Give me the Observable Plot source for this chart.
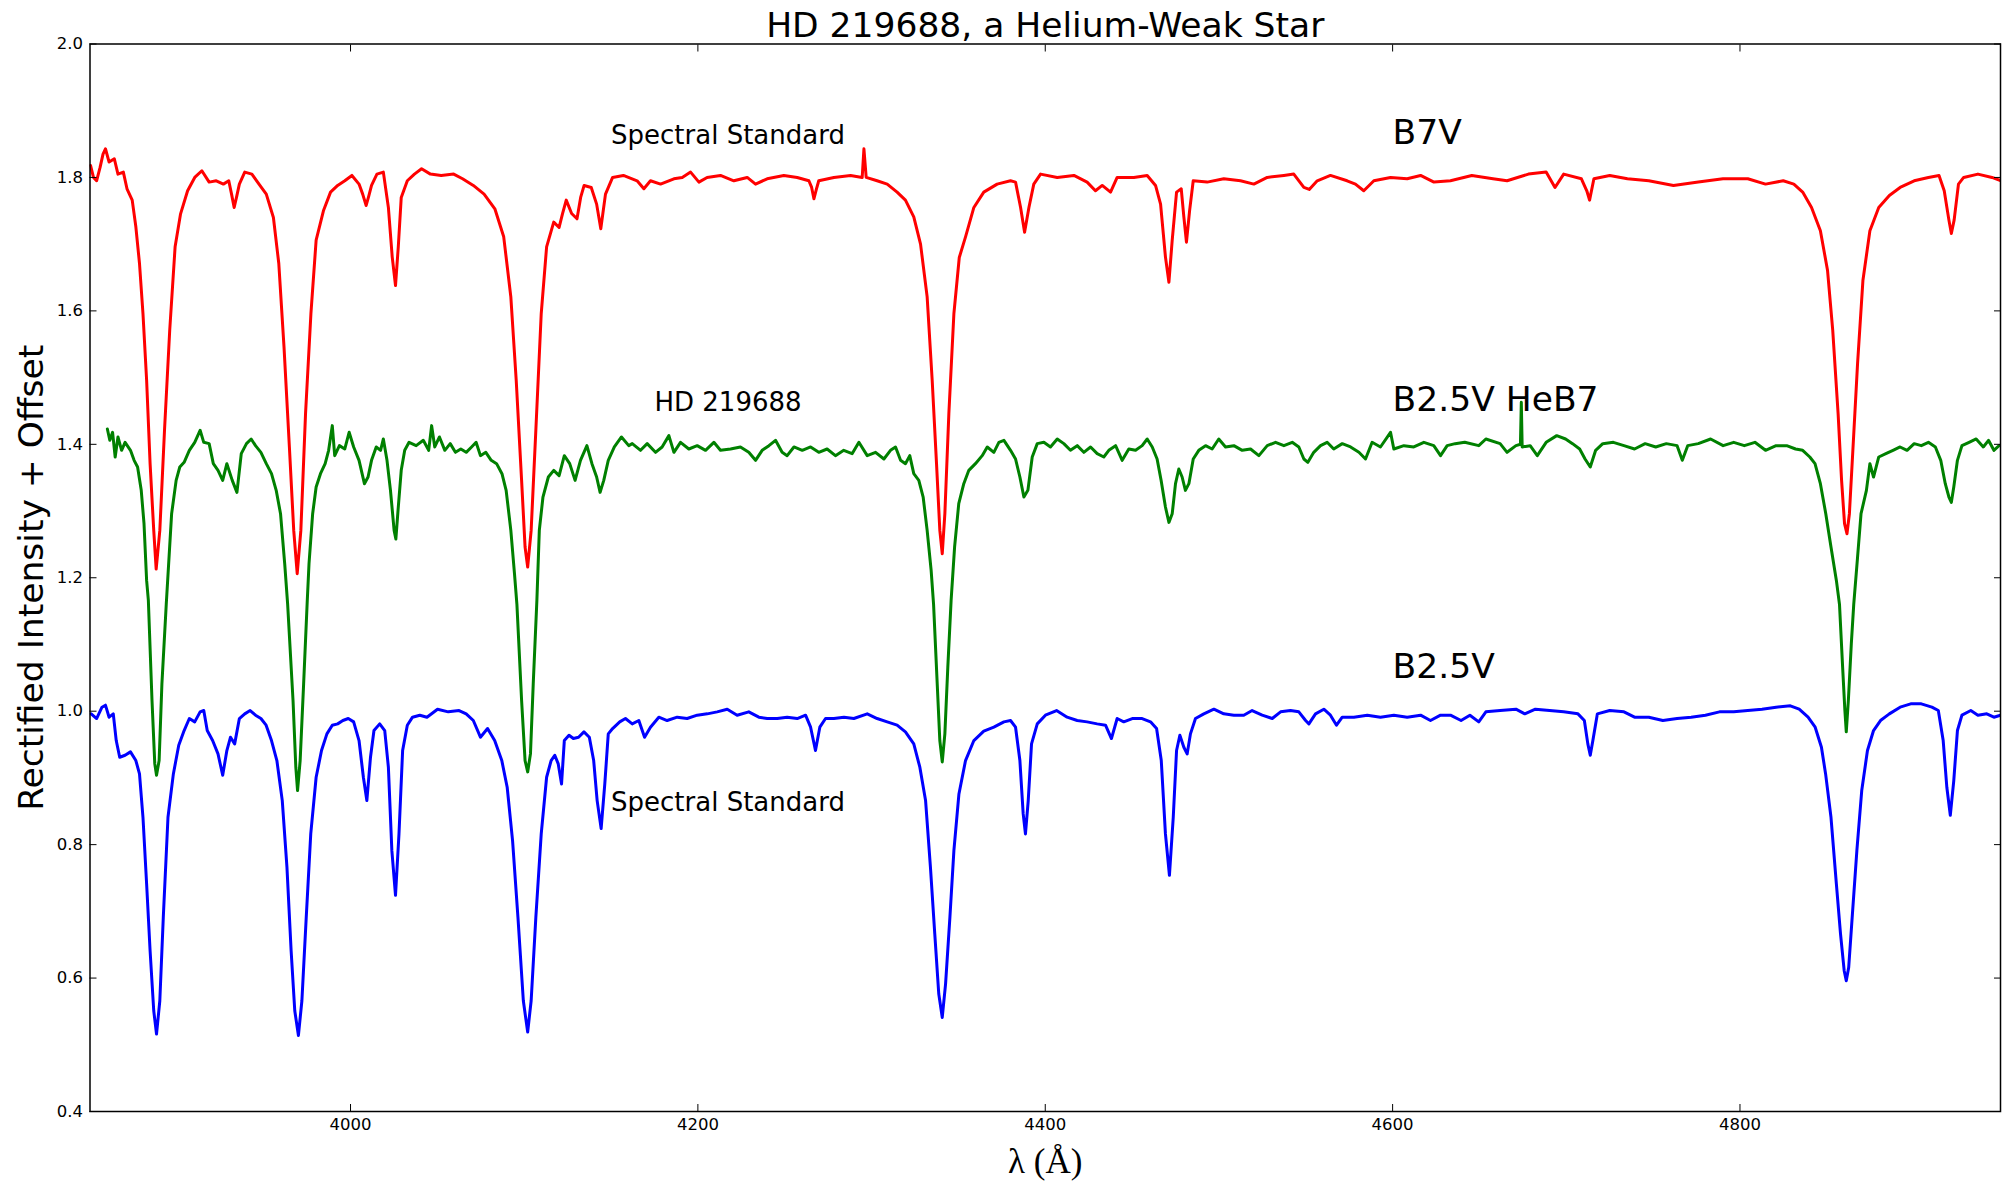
<!DOCTYPE html>
<html>
<head>
<meta charset="utf-8">
<script src="https://cdn.jsdelivr.net/npm/d3@7"></script>
<script src="https://cdn.jsdelivr.net/npm/@observablehq/plot@0.6"></script>
<style>
  html, body { margin: 0; padding: 0; background: #ffffff; }
  #chart { width: 2005px; height: 1182px; }
</style>
</head>
<body>
<div id="chart"></div>
<script>
// ---- Data: [wavelength (Å), rectified intensity + offset] ----
const b7vSpectrum = [
[3850.3,1.818],[3852,1.800],[3853.8,1.795],[3855.8,1.815],[3857.5,1.835],[3858.9,1.843],[3861,1.823],[3864,1.828],[3866.1,1.805],[3869.2,1.808],
[3871.3,1.783],[3874.3,1.766],[3876.4,1.726],[3878.5,1.671],[3880.5,1.596],[3882.6,1.496],[3884.6,1.371],[3886.7,1.271],[3888.1,1.213],[3890.2,1.271],
[3892.9,1.421],[3895.9,1.571],[3899,1.696],[3902.1,1.745],[3906.2,1.780],[3910.3,1.800],[3914.4,1.810],[3918.6,1.793],[3922.7,1.795],[3926.8,1.790],
[3929.9,1.795],[3931.5,1.775],[3933,1.755],[3934.5,1.772],[3936,1.790],[3939.1,1.808],[3943.2,1.805],[3947.3,1.790],[3951.5,1.775],[3955.6,1.740],
[3958.7,1.671],[3961.7,1.546],[3964.8,1.396],[3967.3,1.271],[3969.3,1.206],[3971.4,1.271],[3974.1,1.446],[3977.2,1.596],[3980.2,1.706],[3984.4,1.750],
[3988.5,1.778],[3992.6,1.788],[3996.7,1.795],[4000.8,1.803],[4004.9,1.790],[4007,1.775],[4009,1.758],[4010.5,1.772],[4012.1,1.788],[4015.2,1.805],
[4018.9,1.808],[4021.8,1.755],[4024,1.681],[4025.9,1.638],[4027.5,1.696],[4029.2,1.770],[4032.7,1.795],[4036.8,1.805],[4040.9,1.813],[4046,1.805],
[4052.2,1.803],[4059.4,1.805],[4064.5,1.798],[4070.7,1.788],[4076.9,1.775],[4083.1,1.753],[4088.2,1.711],[4092.3,1.621],[4095.4,1.496],[4098.5,1.346],
[4100.5,1.246],[4102,1.216],[4104,1.271],[4106.7,1.421],[4109.8,1.596],[4112.9,1.696],[4117,1.733],[4120.1,1.725],[4122,1.745],[4124.2,1.766],
[4127.3,1.746],[4130.4,1.738],[4132.5,1.770],[4134.5,1.788],[4138.6,1.785],[4141.7,1.760],[4144.1,1.723],[4146.8,1.775],[4150.9,1.800],[4157.1,1.803],
[4165,1.795],[4168.9,1.783],[4172.7,1.795],[4178.5,1.790],[4186.2,1.798],[4191,1.800],[4195.8,1.808],[4200.6,1.793],[4205.3,1.800],[4213,1.803],
[4220.7,1.795],[4228.4,1.800],[4233.2,1.790],[4239.9,1.798],[4249.5,1.803],[4257.2,1.800],[4263.9,1.795],[4265.5,1.785],[4266.8,1.768],[4268.2,1.782],
[4269.6,1.795],[4278.3,1.800],[4287.9,1.803],[4294.6,1.800],[4295.6,1.843],[4296.9,1.800],[4303.2,1.795],[4309,1.790],[4314.7,1.778],[4319.5,1.766],
[4324.3,1.741],[4328.2,1.700],[4332,1.621],[4334.9,1.496],[4337.4,1.371],[4339.3,1.271],[4340.7,1.236],[4342.2,1.296],[4344.5,1.446],[4347.4,1.596],
[4350.5,1.680],[4354.1,1.711],[4358.9,1.755],[4364.6,1.778],[4372.3,1.790],[4380,1.795],[4382.9,1.793],[4385.8,1.755],[4388.1,1.718],[4390.6,1.755],
[4393.4,1.790],[4397.3,1.805],[4406.9,1.800],[4416.5,1.803],[4424.1,1.793],[4428.9,1.780],[4432.8,1.788],[4437.6,1.778],[4441.4,1.800],[4451,1.800],
[4458.7,1.803],[4463.5,1.788],[4466.4,1.760],[4469.2,1.681],[4471.2,1.643],[4473.1,1.706],[4475.6,1.778],[4478.3,1.783],[4479.8,1.741],[4481.3,1.703],
[4483.1,1.750],[4485.2,1.795],[4493.2,1.793],[4502.8,1.798],[4512.4,1.795],[4520.1,1.790],[4527.8,1.800],[4537.4,1.803],[4543.1,1.805],[4548.9,1.785],
[4552,1.782],[4556.6,1.795],[4564.2,1.803],[4573.8,1.795],[4578.6,1.790],[4583.4,1.780],[4589.2,1.795],[4598.8,1.800],[4608.4,1.798],[4616.1,1.803],
[4623.8,1.793],[4633.3,1.795],[4645.6,1.803],[4657.8,1.798],[4665.9,1.795],[4678.2,1.805],[4688.4,1.808],[4693.5,1.785],[4698.5,1.805],[4708.7,1.798],
[4711.8,1.780],[4713.4,1.766],[4715.9,1.798],[4725,1.803],[4735.2,1.798],[4747.5,1.795],[4761.7,1.788],[4776,1.793],[4790.2,1.798],[4804.5,1.798],
[4814.7,1.790],[4824.9,1.795],[4831,1.790],[4836.1,1.778],[4841.2,1.755],[4846.3,1.720],[4850.4,1.661],[4853.4,1.571],[4856.5,1.446],[4858.5,1.346],
[4860.2,1.281],[4861.6,1.266],[4863,1.296],[4865.1,1.396],[4867.7,1.521],[4870.8,1.646],[4874.8,1.720],[4879.9,1.755],[4886,1.773],[4892.2,1.785],
[4900.3,1.795],[4908.5,1.800],[4914.6,1.803],[4917.6,1.780],[4920.3,1.736],[4921.7,1.716],[4923.3,1.736],[4925.8,1.790],[4928.8,1.800],[4937,1.805],
[4945.1,1.800],[4950.2,1.795]
];

const hd219688Spectrum = [
[3860,1.423],[3861.4,1.406],[3863,1.418],[3864.5,1.381],[3866.1,1.411],[3868.2,1.391],[3870.2,1.403],[3873.3,1.391],[3875.4,1.376],[3877.4,1.366],
[3879.5,1.331],[3881.1,1.281],[3882.6,1.196],[3883.6,1.166],[3885.7,1.016],[3887.3,0.921],[3888.3,0.904],[3889.8,0.926],[3891.4,1.041],[3893.9,1.160],
[3897,1.296],[3899.6,1.346],[3901.7,1.366],[3904.2,1.373],[3907.2,1.391],[3910.3,1.403],[3913.4,1.421],[3915.5,1.403],[3918.6,1.401],[3921,1.371],
[3923.7,1.361],[3926.4,1.346],[3928.8,1.371],[3931.9,1.346],[3934.6,1.328],[3937.1,1.386],[3940.1,1.401],[3942.8,1.408],[3945.3,1.398],[3948.4,1.388],
[3951.5,1.371],[3954.5,1.356],[3957.2,1.331],[3959.7,1.296],[3962.1,1.221],[3963.8,1.160],[3966.9,1.016],[3968.5,0.916],[3969.5,0.881],[3971,0.926],
[3973,1.041],[3975.1,1.166],[3976.1,1.221],[3978.2,1.296],[3980.2,1.336],[3982.7,1.356],[3985.4,1.371],[3987.4,1.391],[3989.5,1.428],[3990.9,1.383],
[3993.6,1.398],[3996.7,1.393],[3999.2,1.418],[4001.8,1.396],[4004.9,1.376],[4008,1.341],[4010.1,1.351],[4012.1,1.376],[4014.8,1.396],[4017.3,1.391],
[4018.9,1.408],[4021,1.376],[4023,1.331],[4025.1,1.271],[4026.1,1.258],[4027.5,1.306],[4029.2,1.361],[4031.2,1.391],[4033.7,1.403],[4037.8,1.398],
[4041.9,1.406],[4045,1.391],[4046.7,1.428],[4048.5,1.396],[4051.2,1.411],[4054.3,1.391],[4057.4,1.401],[4060.4,1.388],[4063.5,1.393],[4066.6,1.388],
[4069.7,1.396],[4072.3,1.403],[4074.8,1.383],[4077.9,1.388],[4081,1.376],[4084.1,1.371],[4087.2,1.356],[4089.6,1.331],[4092.3,1.271],[4094.4,1.206],
[4095.8,1.160],[4098.5,1.016],[4100.5,0.926],[4102,0.909],[4103.6,0.936],[4105.2,1.041],[4107.3,1.166],[4108.7,1.271],[4110.8,1.321],[4113.9,1.351],
[4117,1.361],[4120.1,1.353],[4123.1,1.383],[4126.2,1.371],[4129.3,1.346],[4132.4,1.376],[4136.1,1.398],[4139,1.371],[4141.7,1.351],[4143.7,1.328],
[4145.8,1.346],[4148.4,1.376],[4151.9,1.396],[4156,1.411],[4160.2,1.398],[4162.2,1.401],[4167,1.391],[4170.8,1.401],[4175.6,1.388],[4179.4,1.396],
[4183.3,1.413],[4186.2,1.388],[4190,1.403],[4194.8,1.393],[4199.6,1.398],[4204.4,1.391],[4209.2,1.403],[4213,1.391],[4218.8,1.393],[4224.5,1.396],
[4229.3,1.388],[4233.2,1.376],[4237,1.391],[4240.9,1.398],[4244.7,1.406],[4248.5,1.388],[4251.4,1.383],[4255.3,1.396],[4260.1,1.391],[4264.9,1.396],
[4269.6,1.388],[4274.4,1.393],[4279.2,1.383],[4284,1.391],[4288.8,1.386],[4292.7,1.403],[4297.5,1.383],[4302.3,1.388],[4307.1,1.378],[4310.9,1.391],
[4313.8,1.396],[4316.7,1.376],[4319.5,1.371],[4322,1.383],[4324.3,1.356],[4327.2,1.346],[4329.7,1.321],[4332,1.271],[4334.3,1.211],[4335.7,1.160],
[4337.8,1.041],[4339.3,0.956],[4340.7,0.924],[4342.2,0.966],[4343.9,1.066],[4345.8,1.166],[4347.8,1.246],[4350.2,1.311],[4353.1,1.341],[4356,1.361],
[4359.8,1.371],[4363.7,1.383],[4366.6,1.396],[4370.4,1.388],[4373.3,1.403],[4376.2,1.406],[4380,1.391],[4382.9,1.378],[4385.4,1.351],[4387.7,1.321],
[4390,1.331],[4392.5,1.381],[4395.4,1.401],[4399.2,1.403],[4403,1.396],[4406.9,1.408],[4410.7,1.401],[4414.5,1.391],[4418.4,1.398],[4422.2,1.388],
[4426.1,1.396],[4429.9,1.386],[4433.7,1.381],[4436.6,1.391],[4440.5,1.398],[4444.3,1.376],[4448.1,1.393],[4452,1.391],[4455.8,1.398],[4458.7,1.408],
[4461.6,1.396],[4464.4,1.378],[4466.7,1.346],[4469.2,1.306],[4471.2,1.283],[4473.1,1.296],[4475,1.341],[4476.9,1.363],[4478.8,1.351],[4480.7,1.331],
[4482.7,1.341],[4485.2,1.378],[4488.4,1.391],[4492.3,1.398],[4496.1,1.393],[4499.9,1.408],[4503.8,1.396],[4508.6,1.398],[4513.4,1.391],[4518.2,1.393],
[4523,1.383],[4527.8,1.398],[4532.6,1.403],[4537.4,1.398],[4542.2,1.403],[4546,1.396],[4548.9,1.378],[4551.2,1.373],[4554.6,1.388],[4558.5,1.398],
[4562.3,1.403],[4566.1,1.393],[4571,1.401],[4575.8,1.396],[4580.6,1.388],[4584.4,1.378],[4588.2,1.403],[4593,1.396],[4598.8,1.418],[4600.7,1.393],
[4606.5,1.398],[4612.2,1.396],[4618,1.403],[4623.7,1.398],[4627.6,1.383],[4631.4,1.398],[4636,1.401],[4641.5,1.403],[4649.6,1.398],[4653.7,1.408],
[4661.9,1.401],[4665.9,1.388],[4671,1.398],[4673.6,1.400],[4674.1,1.463],[4674.6,1.396],[4679.2,1.398],[4683.3,1.383],[4688.4,1.403],[4694.5,1.413],
[4699.6,1.408],[4703.6,1.401],[4707.7,1.393],[4710.8,1.378],[4713.8,1.366],[4716.9,1.391],[4721,1.401],[4727.1,1.403],[4733.2,1.398],[4739.3,1.393],
[4745.4,1.401],[4751.5,1.396],[4757.6,1.401],[4763.8,1.398],[4766.8,1.376],[4769.9,1.398],[4776,1.401],[4783.1,1.408],[4790.3,1.398],[4796.4,1.403],
[4802.5,1.398],[4808.6,1.403],[4814.7,1.391],[4820.8,1.398],[4826.9,1.398],[4832,1.393],[4836.1,1.391],[4840.2,1.381],[4843.2,1.371],[4846.3,1.341],
[4849.4,1.296],[4852.4,1.246],[4855.5,1.196],[4857.3,1.160],[4859.1,1.066],[4860.4,1.001],[4861.2,0.969],[4862.4,1.016],[4864.1,1.101],[4865.5,1.160],
[4867.7,1.231],[4869.7,1.296],[4872.8,1.331],[4874.8,1.371],[4876.9,1.351],[4879.9,1.381],[4884,1.386],[4888.1,1.391],[4892.2,1.396],[4896.2,1.391],
[4900.3,1.401],[4904.4,1.398],[4908.5,1.403],[4912.5,1.396],[4915.6,1.376],[4918.2,1.341],[4920.3,1.321],[4921.7,1.313],[4923.1,1.336],[4925.2,1.376],
[4927.8,1.398],[4931.9,1.403],[4936,1.408],[4940.1,1.396],[4943.1,1.406],[4946.2,1.391],[4949.2,1.398]
];

const b25vSpectrum = [
[3850.7,0.996],[3853.8,0.989],[3856.9,1.006],[3858.9,1.009],[3861,0.991],[3863.4,0.996],[3865.1,0.956],[3867.1,0.931],[3870.2,0.934],[3873.3,0.939],
[3876.4,0.926],[3878.5,0.906],[3880.5,0.841],[3882.6,0.741],[3884.6,0.641],[3886.7,0.551],[3888.3,0.516],[3890.2,0.566],[3892.2,0.691],[3894.9,0.841],
[3898,0.906],[3901.1,0.949],[3904.2,0.971],[3907.2,0.989],[3910.3,0.984],[3913.4,0.999],[3915.5,1.001],[3917.5,0.971],[3920.6,0.956],[3923.7,0.936],
[3926.4,0.904],[3928.8,0.941],[3930.9,0.961],[3933.3,0.951],[3936,0.989],[3939.1,0.996],[3942.2,1.001],[3945.3,0.994],[3948.4,0.989],[3951.4,0.979],
[3954.5,0.956],[3957.6,0.926],[3960.7,0.866],[3963.4,0.766],[3965.8,0.641],[3967.9,0.551],[3970,0.514],[3972,0.566],[3974.5,0.691],[3977.1,0.816],
[3980.2,0.901],[3983.3,0.941],[3986.4,0.966],[3989.5,0.979],[3992.6,0.981],[3995.6,0.986],[3998.7,0.989],[4001.8,0.984],[4004.9,0.956],[4007.4,0.901],
[4009.4,0.866],[4011.5,0.931],[4013.5,0.971],[4016.8,0.981],[4019.7,0.971],[4021.8,0.916],[4023.8,0.791],[4025.9,0.724],[4027.9,0.816],[4030,0.941],
[4032.7,0.979],[4035.7,0.991],[4039.9,0.994],[4044,0.991],[4050.1,1.003],[4056.3,0.999],[4062.5,1.001],[4066.6,0.996],[4070.7,0.986],[4074.8,0.961],
[4078.9,0.974],[4083,0.956],[4087.1,0.926],[4090.2,0.886],[4093.3,0.806],[4096.4,0.691],[4099.5,0.566],[4102,0.519],[4104,0.566],[4106.7,0.691],
[4109.8,0.816],[4112.9,0.901],[4115.5,0.926],[4117.6,0.934],[4119.6,0.921],[4121.5,0.891],[4123.1,0.956],[4125.8,0.964],[4128.3,0.959],[4131.3,0.961],
[4134.4,0.969],[4137.5,0.961],[4140,0.926],[4142,0.866],[4144.3,0.824],[4146.4,0.891],[4148.4,0.966],[4150.9,0.974],[4155,0.984],[4158.3,0.989],
[4162.2,0.981],[4166,0.986],[4169.3,0.961],[4172.7,0.976],[4177.5,0.991],[4182.3,0.986],[4188.1,0.991],[4193.8,0.989],[4199.6,0.994],[4205.4,0.996],
[4211.1,0.999],[4216.9,1.003],[4222.6,0.994],[4229.3,0.999],[4235.1,0.991],[4239.9,0.989],[4245.7,0.989],[4251.4,0.991],[4257.2,0.989],[4262,0.994],
[4264.9,0.976],[4267.7,0.941],[4270.2,0.976],[4273.5,0.989],[4278.3,0.989],[4284.1,0.991],[4289.8,0.989],[4297.5,0.996],[4303.2,0.989],[4309,0.984],
[4314.7,0.979],[4319.5,0.969],[4324.3,0.951],[4327.8,0.916],[4331.1,0.866],[4333.9,0.766],[4336.4,0.666],[4338.7,0.576],[4340.7,0.541],[4342.6,0.591],
[4345.1,0.691],[4347.4,0.791],[4350.3,0.876],[4354.1,0.926],[4358.9,0.956],[4364.6,0.970],[4370.4,0.976],[4376.2,0.984],[4380,0.986],[4382.9,0.976],
[4385.4,0.926],[4387.3,0.846],[4388.6,0.816],[4390.2,0.866],[4392.1,0.951],[4395.4,0.981],[4400.1,0.994],[4406.5,1.001],[4412.6,0.991],[4418.4,0.986],
[4424.1,0.984],[4429.9,0.981],[4434.7,0.979],[4438.1,0.959],[4441.4,0.989],[4445.2,0.984],[4450.1,0.989],[4455.8,0.989],[4460.6,0.984],[4464.1,0.974],
[4466.8,0.926],[4469.2,0.816],[4471.5,0.754],[4473.7,0.841],[4475.6,0.941],[4477.5,0.964],[4479.8,0.946],[4481.7,0.936],[4483.6,0.966],[4486.5,0.989],
[4491.3,0.996],[4497.1,1.003],[4502.8,0.996],[4508.6,0.994],[4514.3,0.994],[4519.1,1.001],[4524.9,0.994],[4530.7,0.989],[4535.5,0.999],[4541.2,1.001],
[4546,0.999],[4549.9,0.986],[4551.8,0.981],[4555.6,0.996],[4560.4,1.003],[4564.2,0.994],[4567.7,0.979],[4571,0.991],[4577.7,0.991],[4585.4,0.994],
[4593,0.991],[4600.7,0.994],[4608.4,0.991],[4616.1,0.994],[4621.8,0.986],[4627.6,0.994],[4633.3,0.994],[4639.4,0.986],[4644.5,0.994],[4649.6,0.984],
[4653.7,0.999],[4661.9,1.001],[4671,1.003],[4676.1,0.996],[4682.2,1.003],[4690.4,1.001],[4698.5,0.999],[4706.7,0.996],[4710.4,0.986],[4712.4,0.951],
[4713.8,0.934],[4715.3,0.956],[4717.9,0.996],[4725,1.001],[4733.2,0.999],[4739.3,0.991],[4747.5,0.991],[4755.6,0.986],[4763.8,0.989],[4771.9,0.991],
[4780.1,0.994],[4788.2,0.999],[4796.4,0.999],[4804.5,1.001],[4812.7,1.003],[4820.8,1.006],[4829,1.008],[4834.1,1.003],[4839.2,0.991],[4843.3,0.976],
[4846.9,0.946],[4849.3,0.906],[4852.4,0.841],[4855.5,0.741],[4857.9,0.666],[4860,0.611],[4861.2,0.596],[4862.6,0.616],[4864.6,0.691],[4867.3,0.791],
[4870.1,0.881],[4873.4,0.941],[4876.9,0.971],[4880.9,0.986],[4886,0.996],[4892.2,1.006],[4898.3,1.011],[4904.4,1.011],[4910.5,1.006],[4914.2,1.001],
[4917,0.956],[4919.1,0.886],[4921.1,0.844],[4923.1,0.896],[4925.2,0.971],[4927.8,0.994],[4932.9,1.001],[4937,0.994],[4942.1,0.996],[4946.2,0.991],
[4950.2,0.994]
];

const xTicks = [4000, 4200, 4400, 4600, 4800];
const yTicks = [0.4, 0.6, 0.8, 1.0, 1.2, 1.4, 1.6, 1.8, 2.0];

const chartTitle = "HD 219688, a Helium-Weak Star";
const xAxisLabel = "λ (Å)";
const yAxisLabel = "Rectified Intensity + Offset";

// Annotations placed in data coordinates (wavelength, intensity)
const spectralTypeLabels = [
  {label: "B7V", wave: 4600, flux: 1.85},
  {label: "B2.5V HeB7", wave: 4600, flux: 1.45},
  {label: "B2.5V", wave: 4600, flux: 1.05}
];
const starNameLabels = [
  {label: "Spectral Standard", wave: 4150, flux: 1.85},
  {label: "HD 219688", wave: 4175, flux: 1.45},
  {label: "Spectral Standard", wave: 4150, flux: 0.85}
];

const seriesList = [
  {name: "B7V spectral standard", data: b7vSpectrum, color: "#ff0000"},
  {name: "HD 219688", data: hd219688Spectrum, color: "#008000"},
  {name: "B2.5V spectral standard", data: b25vSpectrum, color: "#0000ff"}
];

const chart = Plot.plot({
  width: 2005,
  height: 1182,
  marginLeft: 89.5,
  marginRight: 5,
  marginTop: 43.5,
  marginBottom: 71,
  style: {fontFamily: "'DejaVu Sans', sans-serif", fontSize: "16px", background: "#ffffff", color: "#000000", overflow: "visible"},
  x: {domain: [3850, 4950]},
  y: {domain: [0.4, 2.0]},
  marks: [
    ...seriesList.map(s => Plot.line(s.data, {
      x: d => d[0], y: d => d[1], stroke: s.color, strokeWidth: 3, clip: true
    })),
    Plot.frame({stroke: "#000000", strokeWidth: 1.5}),
    Plot.axisX({anchor: "bottom", ticks: xTicks, tickSize: -7, tickPadding: 14, tickFormat: "d", label: null, fontSize: 16.5}),
    Plot.axisX({anchor: "top", ticks: xTicks, tickSize: -7, tickFormat: () => "", label: null}),
    Plot.axisY({anchor: "left", ticks: yTicks, tickSize: -7, tickPadding: 14, tickFormat: ".1f", label: null, fontSize: 16.5}),
    Plot.axisY({anchor: "right", ticks: yTicks, tickSize: -7, tickFormat: () => "", label: null}),
    Plot.text(spectralTypeLabels, {x: "wave", y: "flux", text: "label", textAnchor: "start", lineAnchor: "bottom", fontSize: 34.5, fill: "#000000"}),
    Plot.text(starNameLabels, {x: "wave", y: "flux", text: "label", textAnchor: "start", lineAnchor: "bottom", fontSize: 26, fill: "#000000"}),
    Plot.text([chartTitle], {text: d => d, frameAnchor: "top", textAnchor: "middle", dy: -32, fontSize: 34.5, fill: "#000000"}),
    Plot.text([yAxisLabel], {text: d => d, frameAnchor: "left", textAnchor: "middle", rotate: -90, dx: -58.5, fontSize: 34.5, fill: "#000000"}),
    Plot.text([xAxisLabel], {text: d => d, frameAnchor: "bottom", textAnchor: "middle", dy: 61, fontSize: 35, fontFamily: "'Liberation Serif', 'DejaVu Serif', serif", fill: "#000000"})
  ]
});

document.getElementById("chart").appendChild(chart);
</script>
</body>
</html>
